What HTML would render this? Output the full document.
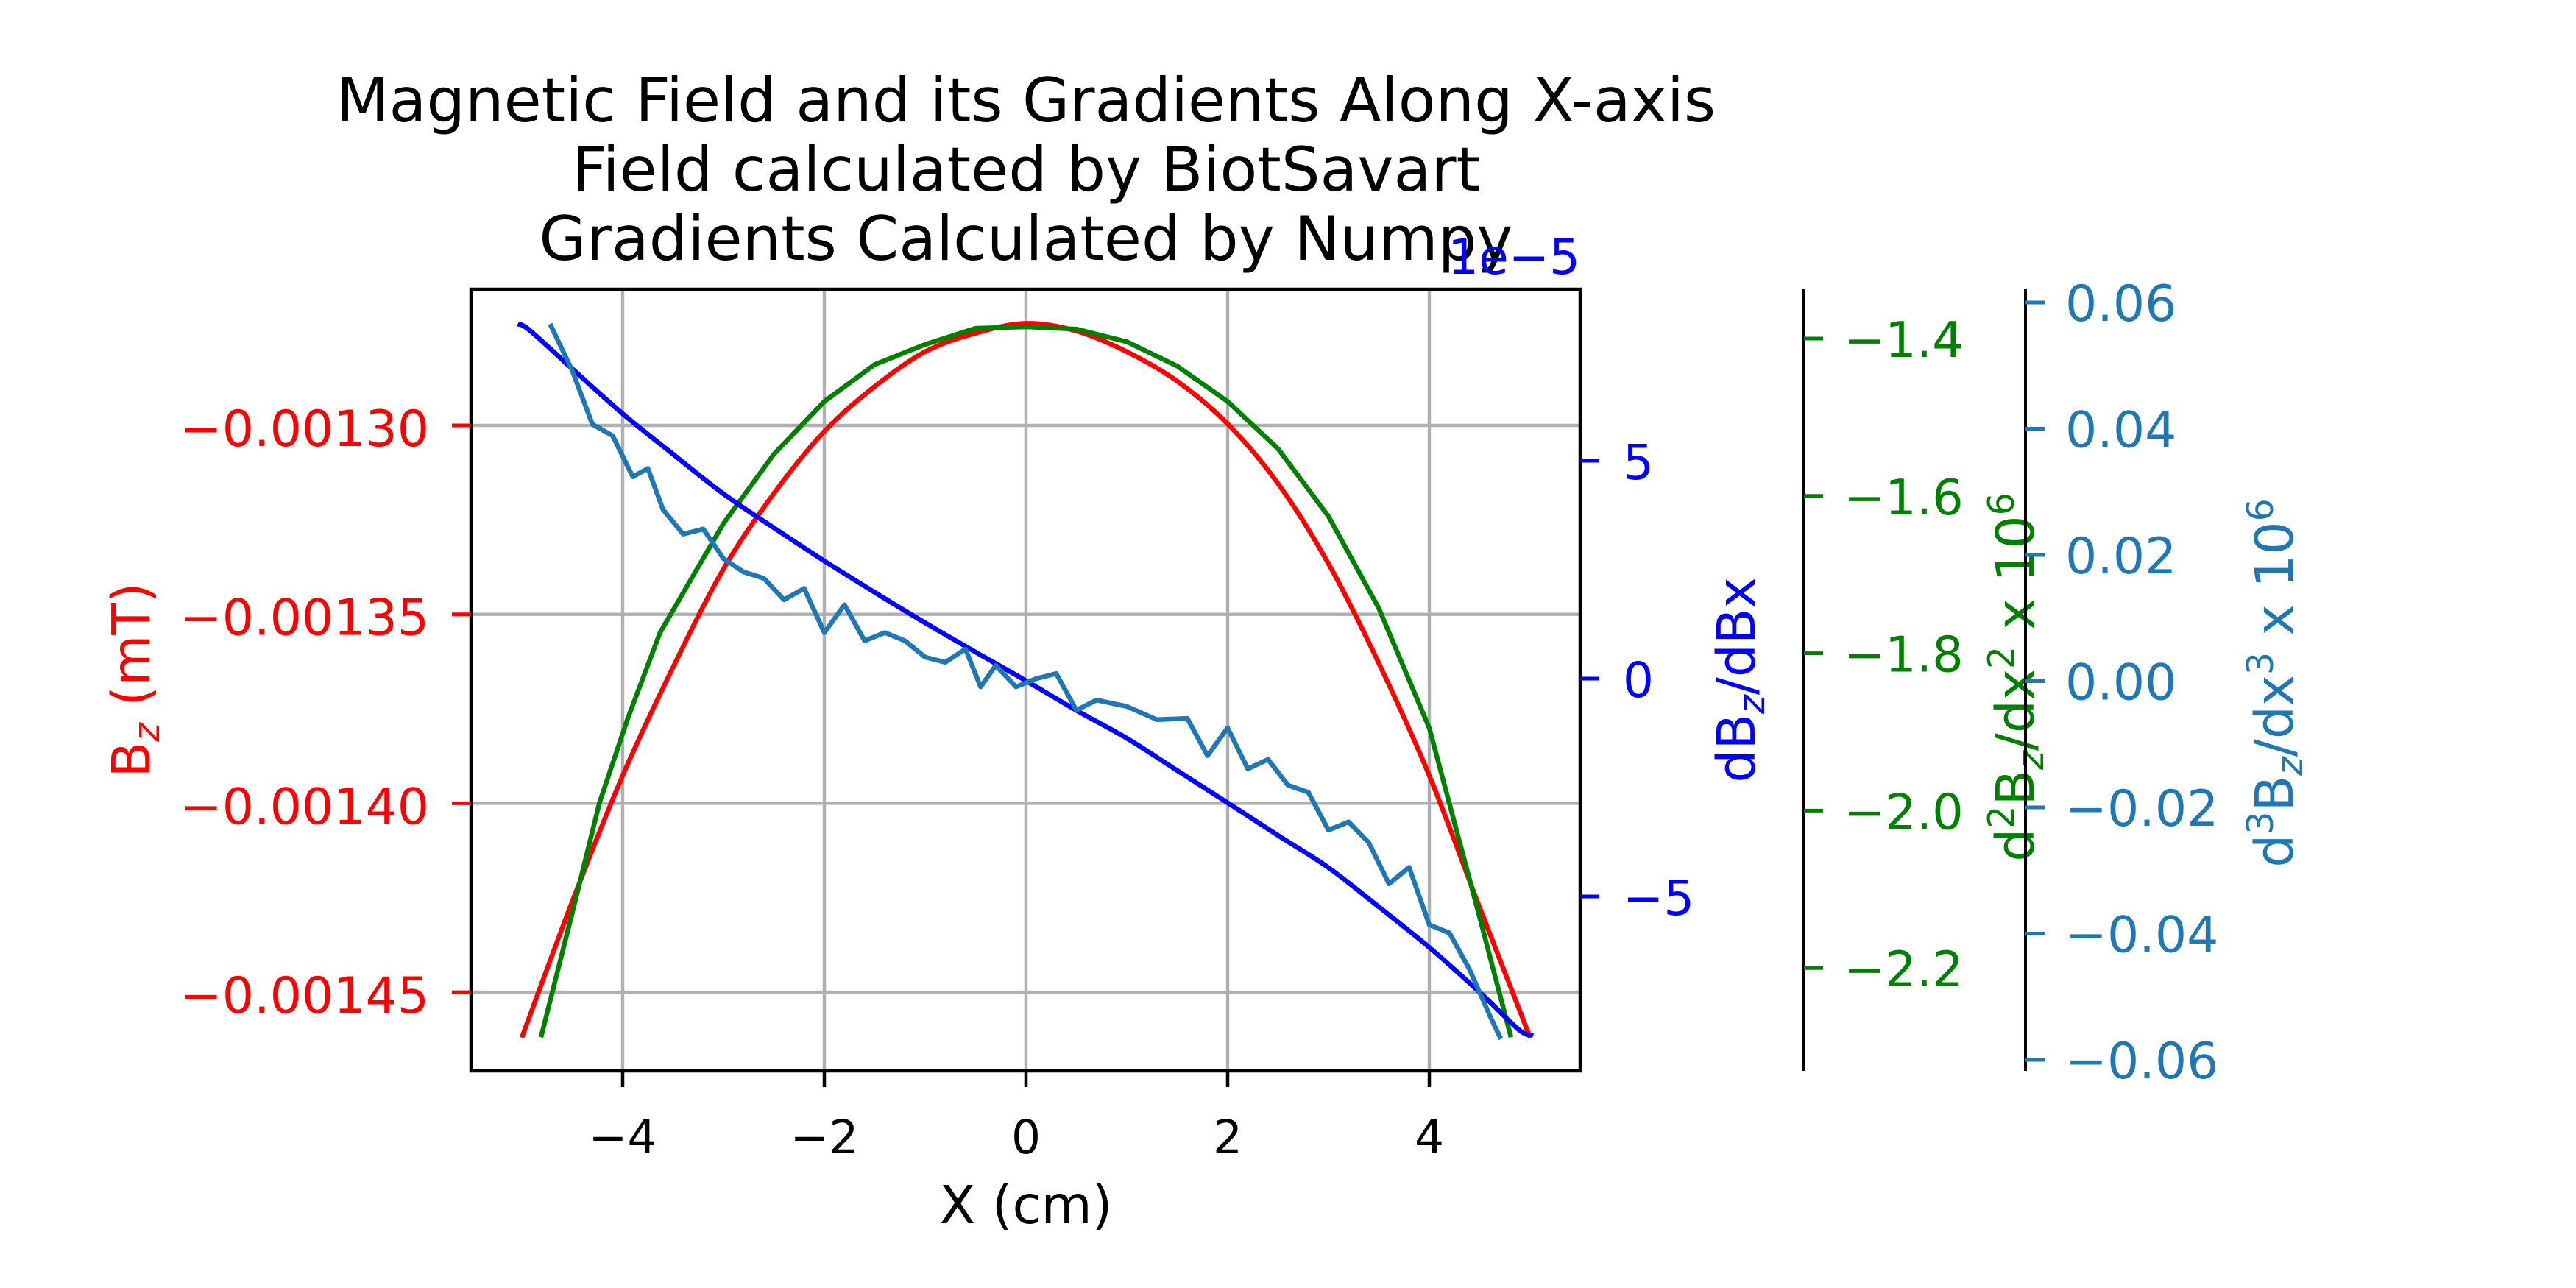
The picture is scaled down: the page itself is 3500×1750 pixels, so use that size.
<!DOCTYPE html>
<html><head><meta charset="utf-8"><style>body{margin:0;background:#fff}svg{display:block;font-family:"DejaVu Sans","Liberation Sans",sans-serif}</style></head>
<body>
<svg id="chart" width="3500" height="1750" viewBox="0 0 3500 1750">
<rect width="3500" height="1750" fill="#fff"/>
<g id="title" font-size="83" text-anchor="middle">
<text x="1394" y="165">Magnetic Field and its Gradients Along X-axis</text>
<text x="1394" y="259">Field calculated by BiotSavart</text>
<text x="1394" y="353">Gradients Calculated by Numpy</text>
</g>
<g id="grid"></g><g id="series"></g><g id="axes"></g>
</svg>
<script>
const xTicks=[-4,-2,0,2,4];
const bzTicks=[-0.00130,-0.00135,-0.00140,-0.00145];
const bzTickLabels=["−0.00130","−0.00135","−0.00140","−0.00145"];
const d1Ticks=[5,0,-5];
const d1TickLabels=["5","0","−5"];
const d2Ticks=[-1.4,-1.6,-1.8,-2.0,-2.2];
const d2TickLabels=["−1.4","−1.6","−1.8","−2.0","−2.2"];
const d3Ticks=[0.06,0.04,0.02,0,-0.02,-0.04,-0.06];
const d3TickLabels=["0.06","0.04","0.02","0.00","−0.02","−0.04","−0.06"];

const bzX=[-5,-4.5,-4,-3.5,-3,-2.5,-2,-1.5,-1,-0.5,0,0.5,1,1.5,2,2.5,3,3.5,4,4.5,5];
const bzY=[-0.001462,-0.001426,-0.0013927,-0.001364,-0.001338,-0.001318,-0.0013016,-0.0012897,-0.0012805,-0.0012756,-0.001273,-0.001275,-0.0012805,-0.0012883,-0.0012996,-0.0013154,-0.0013366,-0.001363,-0.0013927,-0.0014276,-0.001462];
const d1X=[-5.04,-4.92,-4.5,-4,-3.5,-3,-2.5,-2,-1.5,-1,-0.5,0,0.5,1,1.5,2,2.5,3,3.5,4,4.5,4.89,5.03];
const d1Y=[8.14,7.99,7.11,6.08,5.15,4.24,3.46,2.70,1.98,1.28,0.61,-0.05,-0.73,-1.37,-2.11,-2.85,-3.60,-4.34,-5.24,-6.17,-7.2,-8.06,-8.19];
const d2X=[-4.81,-4.5,-4.23,-3.95,-3.63,-3,-2.5,-2,-1.5,-1,-0.5,0,0.5,1,1.5,2,2.5,3,3.5,4,4.5,4.81];
const d2Y=[-2.288,-2.13,-1.99,-1.883,-1.774,-1.635,-1.547,-1.480,-1.433,-1.4075,-1.387,-1.385,-1.388,-1.404,-1.435,-1.480,-1.540,-1.626,-1.743,-1.895,-2.136,-2.288];
const d3X=[-4.72,-4.5,-4.3,-4.1,-3.9,-3.75,-3.6,-3.4,-3.2,-3.0,-2.8,-2.6,-2.4,-2.2,-2.0,-1.8,-1.6,-1.4,-1.2,-1.0,-0.8,-0.6,-0.45,-0.3,-0.1,0.1,0.3,0.5,0.7,1.0,1.3,1.6,1.8,2.0,2.2,2.4,2.6,2.8,3.0,3.2,3.4,3.6,3.8,4.0,4.2,4.4,4.6,4.71];
const d3Y=[0.0566,0.0492,0.0407,0.0389,0.0324,0.0337,0.0272,0.0233,0.0241,0.0194,0.0173,0.0163,0.0129,0.0147,0.0077,0.0121,0.0064,0.0077,0.0064,0.0038,0.0030,0.0051,-0.0009,0.0025,-0.0009,0.0004,0.0012,-0.0046,-0.0030,-0.0040,-0.0061,-0.0059,-0.0118,-0.0074,-0.0139,-0.0124,-0.0165,-0.0176,-0.0236,-0.0223,-0.0256,-0.0321,-0.0295,-0.0386,-0.0399,-0.0457,-0.0530,-0.0567];

const L=640,R=2147,T=393,B=1455;
const sx=v=>1394+v*137;
const syBz=v=>578+(-0.0013-v)/0.00005*256.7;
const syD1=v=>922-v/5*296;
const syD2=v=>460+(-1.4-v)/0.2*213.8;
const syD3=v=>925.5-v/0.02*171.5;
const NS="http://www.w3.org/2000/svg";
function mk(parent,tag,attrs,text){const e=document.createElementNS(NS,tag);for(const k in attrs)e.setAttribute(k,attrs[k]);if(text!==undefined)e.textContent=text;parent.appendChild(e);return e;}
const grid=document.getElementById('grid'),series=document.getElementById('series'),axes=document.getElementById('axes');

xTicks.forEach(v=>{const g=mk(grid,'line',{x1:sx(v),x2:sx(v),y1:T,y2:B,stroke:'#b0b0b0','stroke-width':4.4});

});
bzTicks.forEach(v=>{const g=mk(grid,'line',{x1:L,x2:R,y1:syBz(v),y2:syBz(v),stroke:'#b0b0b0','stroke-width':4.4});

});

function line(xs,ys,sy,color,name,smooth){
const P=xs.map((x,i)=>[sx(x),sy(ys[i])]);
let d='M'+P[0][0].toFixed(1)+','+P[0][1].toFixed(1);
for(let i=0;i<P.length-1;i++){
 if(!smooth){d+='L'+P[i+1][0].toFixed(1)+','+P[i+1][1].toFixed(1);continue;}
 const p0=P[Math.max(0,i-1)],p1=P[i],p2=P[i+1],p3=P[Math.min(P.length-1,i+2)];
 const c1=[p1[0]+(p2[0]-p0[0])/6,p1[1]+(p2[1]-p0[1])/6],c2=[p2[0]-(p3[0]-p1[0])/6,p2[1]-(p3[1]-p1[1])/6];
 d+='C'+c1.map(n=>n.toFixed(1)).join(',')+' '+c2.map(n=>n.toFixed(1)).join(',')+' '+p2.map(n=>n.toFixed(1)).join(',');}
const p=mk(series,'path',{d:d,fill:'none',stroke:color,'stroke-width':6.5,'stroke-linejoin':'round'});

}
line(bzX,bzY,syBz,'#ff0000','bz-line',true);
line(d2X,d2Y,syD2,'#008000','d2bz-line',false);
line(d1X,d1Y,syD1,'#0000ff','d1bz-line',true);
line(d3X,d3Y,syD3,'#1f77b4','d3bz-line',false);

const frame=mk(axes,'rect',{x:L,y:T,width:R-L,height:B-T,fill:'none',stroke:'#000','stroke-width':4.5});



xTicks.forEach(v=>{mk(axes,'line',{x1:sx(v),x2:sx(v),y1:B,y2:B+22,stroke:'#000','stroke-width':4.5});
const t=mk(axes,'text',{x:sx(v),y:1567,'font-size':63,'text-anchor':'middle'},v<0?'−'+(-v):String(v));

});
const xl=mk(axes,'text',{x:1394,y:1662,'font-size':71,'text-anchor':'middle'},'X (cm)');



bzTicks.forEach((v,i)=>{mk(axes,'line',{x1:L-26,x2:L,y1:syBz(v),y2:syBz(v),stroke:'#ff0000','stroke-width':5});
const t=mk(axes,'text',{x:583,y:syBz(v)+28,'font-size':68,'text-anchor':'end',fill:'#ff0000'},bzTickLabels[i]);

});
const yl=mk(axes,'text',{transform:'translate(203,924) rotate(-90)','font-size':71,'text-anchor':'middle',fill:'#ff0000'});
yl.innerHTML='B<tspan font-size="49" dy="13" font-style="italic">z</tspan><tspan dy="-13"> (mT)</tspan>';



d1Ticks.forEach((v,i)=>{mk(axes,'line',{x1:R,x2:R+26,y1:syD1(v),y2:syD1(v),stroke:'#0000ff','stroke-width':5});
const t=mk(axes,'text',{x:2205,y:syD1(v)+25,'font-size':66,fill:'#0000ff'},d1TickLabels[i]);

});
const off=mk(axes,'text',{x:2147,y:372,'font-size':66,'text-anchor':'end',fill:'#0000ff'},'1e−5');


const l1=mk(axes,'text',{transform:'translate(2384,924) rotate(-90)','font-size':71,'text-anchor':'middle',fill:'#0000ff'});
l1.innerHTML='dB<tspan font-size="49" dy="13" font-style="italic">z</tspan><tspan dy="-13">/dBx</tspan>';



const s2=mk(axes,'line',{x1:2451,x2:2451,y1:T,y2:B,stroke:'#000','stroke-width':4});


d2Ticks.forEach((v,i)=>{mk(axes,'line',{x1:2451,x2:2477,y1:syD2(v),y2:syD2(v),stroke:'#008000','stroke-width':5});
const t=mk(axes,'text',{x:2505,y:syD2(v)+25,'font-size':67,fill:'#008000'},d2TickLabels[i]);

});
const l2=mk(axes,'text',{transform:'translate(2763,920) rotate(-90)','font-size':71,'text-anchor':'middle',fill:'#008000'});
l2.innerHTML='d<tspan font-size="49" dy="-27">2</tspan><tspan dy="27">B</tspan><tspan font-size="49" dy="13" font-style="italic">z</tspan><tspan dy="-13">/dx</tspan><tspan font-size="49" dy="-27">2</tspan><tspan dy="27">  x 10</tspan><tspan font-size="49" dy="-27">6</tspan>';



const s3=mk(axes,'line',{x1:2752,x2:2752,y1:T,y2:B,stroke:'#000','stroke-width':4});


d3Ticks.forEach((v,i)=>{mk(axes,'line',{x1:2752,x2:2778,y1:syD3(v),y2:syD3(v),stroke:'#1f77b4','stroke-width':5});
const t=mk(axes,'text',{x:2806,y:syD3(v)+25,'font-size':68,fill:'#1f77b4'},d3TickLabels[i]);

});
const l3=mk(axes,'text',{transform:'translate(3115,928) rotate(-90)','font-size':71,'text-anchor':'middle',fill:'#1f77b4'});
l3.innerHTML='d<tspan font-size="49" dy="-27">3</tspan><tspan dy="27">B</tspan><tspan font-size="49" dy="13" font-style="italic">z</tspan><tspan dy="-13">/dx</tspan><tspan font-size="49" dy="-27">3</tspan><tspan dy="27">  x 10</tspan><tspan font-size="49" dy="-27">6</tspan>';


</script>
</body></html>
